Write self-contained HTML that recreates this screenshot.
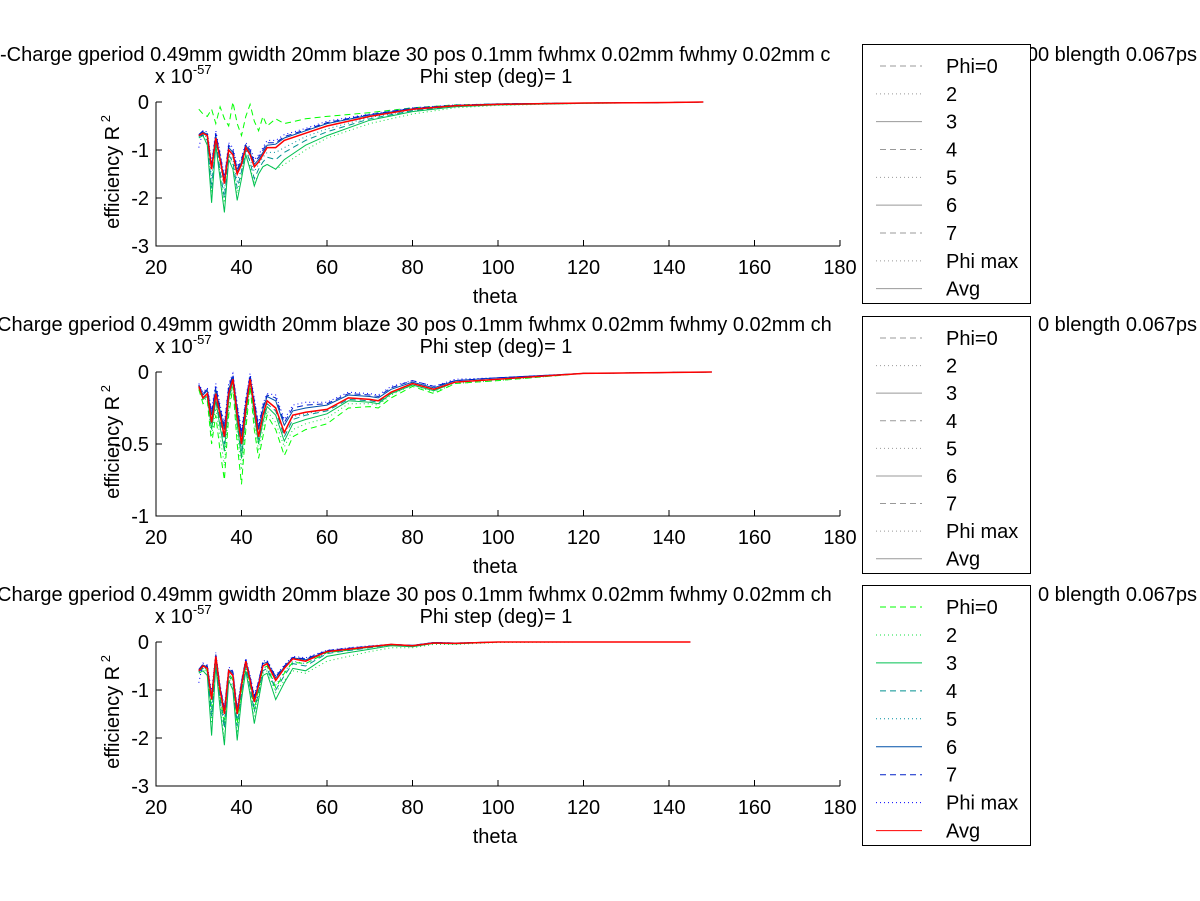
<!DOCTYPE html>
<html><head><meta charset="utf-8"><style>
html,body{margin:0;padding:0;background:#fff;}
svg{display:block;font-family:"Liberation Sans",sans-serif;}
</style></head><body>
<svg id="fig" width="1200" height="901" viewBox="0 0 1200 901" xmlns="http://www.w3.org/2000/svg"></svg>
<script>
const xTicks = [20,40,60,80,100,120,140,160,180];
const legendLabels = ["Phi=0","2","3","4","5","6","7","Phi max","Avg"];
const theta1 = [30,31,32,33,34,35,36,37,38,39,40,41,42,43,44,45,46,48,50,55,60,70,80,90,100,120,140,148];
const p1phi0 = [-0.15,-0.25,-0.3,-0.15,-0.45,-0.1,-0.35,-0.5,0,-0.45,-0.7,-0.3,-0.05,-0.4,-0.6,-0.3,-0.5,-0.35,-0.45,-0.35,-0.3,-0.22,-0.12,-0.06,-0.04,-0.02,-0.01,0];
const p1s2 = [-0.7,-0.7,-0.85,-1.9,-0.85,-1.5,-2.1,-1.15,-1.3,-1.9,-1.5,-1.1,-1.35,-1.7,-1.5,-1.35,-1.3,-1.4,-1.3,-1.0,-0.75,-0.45,-0.25,-0.12,-0.07,-0.03,-0.01,0];
const p1s3 = [-0.75,-0.7,-0.9,-2.1,-0.9,-1.6,-2.3,-1.2,-1.4,-2.05,-1.6,-1.1,-1.4,-1.75,-1.5,-1.35,-1.3,-1.4,-1.2,-0.9,-0.7,-0.38,-0.2,-0.1,-0.06,-0.03,-0.01,0];
const p1s4 = [-0.72,-0.68,-0.8,-1.8,-0.8,-1.45,-2.0,-1.1,-1.25,-1.8,-1.45,-1.0,-1.25,-1.6,-1.4,-1.25,-1.15,-1.2,-1.05,-0.8,-0.62,-0.35,-0.18,-0.09,-0.05,-0.02,-0.01,0];
const p1s5 = [-0.7,-0.66,-0.75,-1.6,-0.78,-1.3,-1.85,-1.05,-1.2,-1.65,-1.4,-0.98,-1.2,-1.45,-1.3,-1.15,-1.05,-1.05,-0.95,-0.72,-0.56,-0.32,-0.17,-0.08,-0.05,-0.02,-0.01,0];
const p1s6 = [-0.68,-0.62,-0.68,-1.35,-0.7,-1.15,-1.65,-0.95,-1.05,-1.45,-1.25,-0.9,-1.05,-1.3,-1.2,-1.05,-0.9,-0.88,-0.75,-0.6,-0.45,-0.27,-0.14,-0.07,-0.04,-0.02,-0.01,0];
const p1s7 = [-0.68,-0.6,-0.66,-1.3,-0.65,-1.1,-1.6,-0.9,-1.0,-1.4,-1.2,-0.88,-1.0,-1.25,-1.15,-1.0,-0.85,-0.85,-0.72,-0.58,-0.43,-0.26,-0.13,-0.07,-0.04,-0.02,-0.01,0];
const p1max = [-0.95,-0.6,-0.62,-1.25,-0.6,-1.05,-1.55,-0.85,-0.95,-1.35,-1.15,-0.85,-0.95,-1.2,-1.1,-0.95,-0.8,-0.8,-0.68,-0.55,-0.4,-0.25,-0.12,-0.06,-0.04,-0.02,-0.01,0];
const p1avg = [-0.7,-0.65,-0.7,-1.4,-0.75,-1.2,-1.7,-1.0,-1.1,-1.5,-1.3,-0.95,-1.1,-1.35,-1.25,-1.1,-0.95,-0.95,-0.8,-0.65,-0.5,-0.3,-0.15,-0.08,-0.05,-0.02,-0.01,0];

const theta2 = [30,31,32,33,34,35,36,37,38,39,40,41,42,43,44,45,46,48,50,52,55,60,65,70,72,75,80,85,90,100,120,150];
const p2phi0 = [-0.12,-0.22,-0.2,-0.5,-0.3,-0.55,-0.75,-0.3,-0.1,-0.5,-0.78,-0.4,-0.1,-0.4,-0.6,-0.45,-0.3,-0.4,-0.58,-0.45,-0.4,-0.36,-0.25,-0.24,-0.25,-0.18,-0.1,-0.15,-0.08,-0.06,-0.01,0];
const p2s2 = [-0.11,-0.2,-0.18,-0.45,-0.25,-0.45,-0.65,-0.25,-0.08,-0.42,-0.68,-0.35,-0.08,-0.35,-0.55,-0.4,-0.27,-0.35,-0.52,-0.4,-0.36,-0.32,-0.22,-0.22,-0.23,-0.16,-0.09,-0.14,-0.08,-0.06,-0.01,0];
const p2s3 = [-0.1,-0.19,-0.17,-0.4,-0.2,-0.38,-0.55,-0.2,-0.06,-0.36,-0.6,-0.3,-0.06,-0.3,-0.5,-0.35,-0.24,-0.3,-0.48,-0.36,-0.33,-0.29,-0.2,-0.21,-0.22,-0.15,-0.09,-0.13,-0.07,-0.05,-0.01,0];
const p2s4 = [-0.1,-0.18,-0.16,-0.37,-0.18,-0.34,-0.5,-0.18,-0.05,-0.33,-0.55,-0.28,-0.05,-0.28,-0.47,-0.32,-0.22,-0.27,-0.45,-0.33,-0.3,-0.27,-0.19,-0.2,-0.21,-0.14,-0.08,-0.12,-0.07,-0.05,-0.01,0];
const p2s5 = [-0.1,-0.18,-0.15,-0.35,-0.16,-0.31,-0.46,-0.16,-0.05,-0.31,-0.51,-0.26,-0.05,-0.26,-0.45,-0.3,-0.2,-0.25,-0.43,-0.31,-0.29,-0.26,-0.18,-0.19,-0.2,-0.14,-0.08,-0.12,-0.07,-0.05,-0.01,0];
const p2s6 = [-0.09,-0.16,-0.13,-0.3,-0.12,-0.27,-0.4,-0.12,-0.03,-0.26,-0.45,-0.22,-0.03,-0.22,-0.4,-0.26,-0.17,-0.2,-0.37,-0.27,-0.25,-0.23,-0.16,-0.17,-0.18,-0.12,-0.07,-0.11,-0.06,-0.04,-0.01,0];
const p2s7 = [-0.09,-0.15,-0.12,-0.28,-0.1,-0.25,-0.38,-0.1,-0.02,-0.24,-0.43,-0.2,-0.02,-0.2,-0.38,-0.24,-0.16,-0.18,-0.35,-0.25,-0.23,-0.22,-0.15,-0.16,-0.17,-0.11,-0.06,-0.1,-0.06,-0.04,-0.01,0];
const p2max = [-0.08,-0.14,-0.11,-0.26,-0.08,-0.23,-0.36,-0.08,-0.01,-0.22,-0.41,-0.18,-0.01,-0.18,-0.36,-0.22,-0.15,-0.16,-0.33,-0.23,-0.21,-0.21,-0.14,-0.15,-0.16,-0.1,-0.06,-0.1,-0.05,-0.04,-0.01,0];
const p2avg = [-0.1,-0.18,-0.15,-0.35,-0.15,-0.3,-0.45,-0.15,-0.05,-0.3,-0.5,-0.25,-0.05,-0.25,-0.45,-0.3,-0.2,-0.25,-0.42,-0.3,-0.28,-0.26,-0.18,-0.19,-0.2,-0.14,-0.08,-0.12,-0.07,-0.05,-0.01,0];

const theta3 = [30,31,32,33,34,35,36,37,38,39,40,41,42,43,44,45,46,48,50,52,55,60,65,70,75,80,85,90,100,120,145];
const p3phi0 = [-0.62,-0.52,-0.6,-1.4,-0.35,-1.15,-1.7,-0.65,-0.8,-1.7,-1.0,-0.45,-0.9,-1.4,-1.0,-0.55,-0.5,-0.95,-0.65,-0.42,-0.45,-0.22,-0.17,-0.11,-0.06,-0.09,-0.02,-0.03,0,0,0];
const p3s2 = [-0.62,-0.55,-0.65,-1.7,-0.45,-1.3,-2.0,-0.75,-0.95,-1.9,-1.1,-0.55,-1.0,-1.55,-1.1,-0.65,-0.6,-1.05,-0.8,-0.6,-0.65,-0.4,-0.3,-0.2,-0.12,-0.12,-0.05,-0.05,-0.01,0,0];
const p3s3 = [-0.65,-0.6,-0.7,-1.95,-0.5,-1.4,-2.15,-0.8,-1.0,-2.05,-1.2,-0.6,-1.1,-1.7,-1.2,-0.7,-0.65,-1.2,-0.85,-0.55,-0.6,-0.3,-0.22,-0.15,-0.08,-0.1,-0.03,-0.04,0,0,0];
const p3s4 = [-0.62,-0.55,-0.62,-1.55,-0.4,-1.2,-1.8,-0.7,-0.85,-1.75,-1.05,-0.5,-0.95,-1.45,-1.05,-0.6,-0.55,-1.0,-0.7,-0.45,-0.5,-0.24,-0.18,-0.12,-0.06,-0.09,-0.02,-0.03,0,0,0];
const p3s5 = [-0.6,-0.52,-0.58,-1.35,-0.35,-1.1,-1.65,-0.65,-0.75,-1.6,-0.95,-0.45,-0.85,-1.35,-0.95,-0.55,-0.5,-0.9,-0.62,-0.4,-0.45,-0.22,-0.16,-0.11,-0.06,-0.08,-0.02,-0.03,0,0,0];
const p3s6 = [-0.58,-0.48,-0.52,-1.15,-0.28,-0.95,-1.45,-0.58,-0.65,-1.45,-0.85,-0.38,-0.75,-1.2,-0.85,-0.45,-0.42,-0.75,-0.52,-0.33,-0.37,-0.19,-0.14,-0.09,-0.05,-0.07,-0.01,-0.02,0,0,0];
const p3s7 = [-0.57,-0.46,-0.5,-1.1,-0.26,-0.92,-1.4,-0.55,-0.62,-1.4,-0.82,-0.36,-0.72,-1.15,-0.82,-0.42,-0.4,-0.72,-0.5,-0.32,-0.35,-0.18,-0.13,-0.09,-0.05,-0.07,-0.01,-0.02,0,0,0];
const p3max = [-0.85,-0.44,-0.48,-1.05,-0.22,-0.9,-1.35,-0.52,-0.6,-1.35,-0.8,-0.34,-0.7,-1.1,-0.8,-0.4,-0.38,-0.7,-0.48,-0.3,-0.33,-0.17,-0.12,-0.08,-0.05,-0.07,-0.01,-0.02,0,0,0];
const p3avg = [-0.6,-0.5,-0.55,-1.2,-0.3,-1.0,-1.5,-0.6,-0.7,-1.5,-0.9,-0.4,-0.8,-1.25,-0.9,-0.5,-0.45,-0.8,-0.55,-0.35,-0.4,-0.2,-0.15,-0.1,-0.05,-0.08,-0.02,-0.03,0,0,0];

const styles = [
 {c:"#00ff00",d:"6,4"},{c:"#10e040",d:"1,3"},{c:"#00c050",d:""},
 {c:"#009090",d:"6,4"},{c:"#008fa0",d:"1,3"},{c:"#0050a8",d:""},
 {c:"#0020c8",d:"6,4"},{c:"#0000ff",d:"1,3"},{c:"#ff0000",d:""}
];
const panels = [
 {top:102,bottom:246,ymin:-3,yTicks:[0,-1,-2,-3],yLab:["0","-1","-2","-3"],theta:theta1,series:[p1phi0,p1s2,p1s3,p1s4,p1s5,p1s6,p1s7,p1max,p1avg],
  tLeft:"-Charge gperiod 0.49mm gwidth 20mm blaze 30 pos 0.1mm fwhmx 0.02mm fwhmy 0.02mm c",tRight:"00 blength 0.067ps",tl:0,t1:61,leg:[862,44,168,259],greyLeg:true},
 {top:372,bottom:516,ymin:-1,yTicks:[0,-0.5,-1],yLab:["0","-0.5","-1"],theta:theta2,series:[p2phi0,p2s2,p2s3,p2s4,p2s5,p2s6,p2s7,p2max,p2avg],
  tLeft:"Charge gperiod 0.49mm gwidth 20mm blaze 30 pos 0.1mm fwhmx 0.02mm fwhmy 0.02mm ch",tRight:"0 blength 0.067ps",tl:-3,t1:331,leg:[862,316,168,257],greyLeg:true},
 {top:642,bottom:786,ymin:-3,yTicks:[0,-1,-2,-3],yLab:["0","-1","-2","-3"],theta:theta3,series:[p3phi0,p3s2,p3s3,p3s4,p3s5,p3s6,p3s7,p3max,p3avg],
  tLeft:"Charge gperiod 0.49mm gwidth 20mm blaze 30 pos 0.1mm fwhmx 0.02mm fwhmy 0.02mm ch",tRight:"0 blength 0.067ps",tl:-3,t1:601,leg:[862,585,168,260],greyLeg:false}
];
const svg = document.getElementById('fig');
const NS = "http://www.w3.org/2000/svg";
const FS = 20;
function mk(tag, attrs, parent){const e=document.createElementNS(NS,tag);for(const k in attrs)e.setAttribute(k,attrs[k]);(parent||svg).appendChild(e);return e;}
const X0=156, X1=840;
function xs(v){return X0+(v-20)/(180-20)*(X1-X0);}
panels.forEach((p,pi)=>{
  const g=mk('g',{});
  
  
  const ys=v=>p.top+(0-v)/(0-p.ymin)*(p.bottom-p.top);
  const t1=mk('text',{x:p.tl,y:p.t1,'font-size':FS},g); t1.textContent=p.tLeft;
  
  
  const t1r=mk('text',{x:1197,y:p.t1,'font-size':FS,'text-anchor':'end'},g); t1r.textContent=p.tRight;
  
  
  const t2=mk('text',{x:496,y:p.t1+22,'font-size':FS,'text-anchor':'middle'},g); t2.textContent="Phi step (deg)= 1";
  
  
  const ex=mk('text',{x:155,y:p.top-19,'font-size':FS}); g.appendChild(ex); ex.innerHTML='x 10<tspan dy="-9" font-size="13">-57</tspan>';
  
  
  const ax=mk('path',{d:`M${X0},${p.top}V${p.bottom}H${X1}`,stroke:'#000',fill:'none','stroke-width':1},g);
  
  
  xTicks.forEach(v=>{
    const x=xs(v);
    mk('line',{x1:x,x2:x,y1:p.bottom,y2:p.bottom-6,stroke:'#000'},g);
    const tl=mk('text',{x:x,y:p.bottom+28,'font-size':FS,'text-anchor':'middle'},g); tl.textContent=v;
    
    
  });
  p.yTicks.forEach((v,i)=>{
    const y=ys(v);
    mk('line',{x1:X0,x2:X0+6,y1:y,y2:y,stroke:'#000'},g);
    const tl=mk('text',{x:149,y:y+7,'font-size':FS,'text-anchor':'end'},g); tl.textContent=p.yLab[i];
    
    
  });
  const xl=mk('text',{x:495,y:p.bottom+57,'font-size':FS,'text-anchor':'middle'},g); xl.textContent="theta";
  
  
  const cy=(p.top+p.bottom)/2;
  const yl=mk('text',{x:0,y:0,'font-size':FS,'text-anchor':'middle',transform:`translate(119,${cy-2}) rotate(-90)`},g);
  yl.innerHTML='efficiency R<tspan dy="-9" font-size="13"> 2</tspan>';
  
  
  p.series.forEach((arr,si)=>{
    const d=arr.map((v,i)=>(i?'L':'M')+xs(p.theta[i]).toFixed(1)+','+ys(v).toFixed(1)).join('');
    const pl=mk('path',{d:d,fill:'none',stroke:styles[si].c,'stroke-width':si==8?1.5:1,'stroke-dasharray':styles[si].d},g);
    
    
  });
  const [lx,ly,lw,lh]=p.leg;
  const lg=mk('g',{},g);
  
  
  mk('rect',{x:lx+0.5,y:ly+0.5,width:lw,height:lh,fill:'#fff',stroke:'#000'},lg);
  const step=(lh-28)/8.3;
  legendLabels.forEach((lab,i)=>{
    const y=ly+22+i*step;
    const c=p.greyLeg?'#999':styles[i].c;
    const dash=styles[i].d;
    const ln=mk('line',{x1:lx+(dash=="6,4"?18:14),x2:lx+60,y1:y,y2:y,stroke:c,'stroke-dasharray':dash},lg);
    
    
    const tx=mk('text',{x:lx+84,y:y+7,'font-size':FS},lg); tx.textContent=lab;
    
    
  });
});
</script>
</body></html>
